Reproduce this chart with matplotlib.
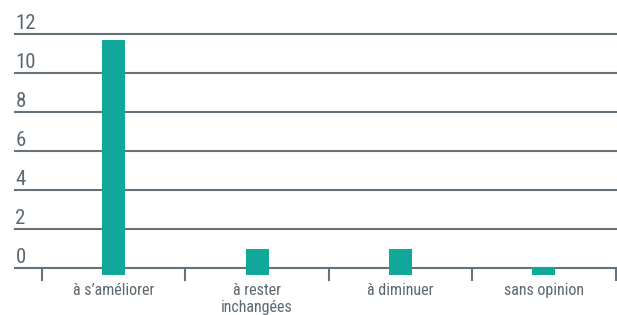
import matplotlib
matplotlib.use("Agg")
import matplotlib.pyplot as plt

categories = ["à s\u2019améliorer", "à rester\ninchangées", "à diminuer", "sans opinion"]
values = [11.7, 0.95, 0.95, 0.05]
y_ticks = [0, 2, 4, 6, 8, 10, 12]

teal = "#11a89b"
line_col = "#66737b"
text_col = "#5c6870"
plt.rcParams['font.family'] = ['Roboto Condensed', 'Liberation Sans Narrow', 'Roboto', 'DejaVu Sans']

fig = plt.figure(figsize=(6.17, 3.15), dpi=100)
ax = fig.add_axes([14 / 617, 0.1059, 603 / 617, 0.8171])
ax.set_xlim(-0.695, 3.51)
ax.set_ylim(-0.7, 12.5)
ax.axis("off")

# horizontal grid lines with labels sitting above them
for v in y_ticks:
    ax.axhline(v, color=line_col, lw=1.5, zorder=1)
    ax.text(-0.685, v + 0.28, str(v), color=text_col, fontsize=15,
            ha="left", va="baseline")

# bars start a little below the zero line
base = -0.35
x = list(range(len(categories)))
ax.bar(x, [v - base for v in values], bottom=base, width=0.16,
       color=teal, zorder=2)

# category separators below the axis
for b in [-0.5, 0.5, 1.5, 2.5, 3.5]:
    ax.plot([b, b], [0, -0.62], color=line_col, lw=1.5, clip_on=False, zorder=1)

for i, c in enumerate(categories):
    ax.text(i, -0.76, c, color=text_col, fontsize=11.5, ha="center", va="top",
            linespacing=1.2, clip_on=False)

fig.savefig("out.png", dpi=100)
